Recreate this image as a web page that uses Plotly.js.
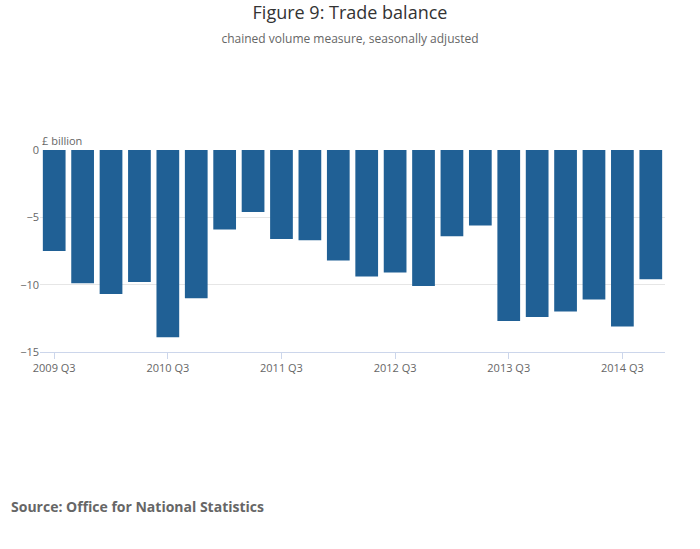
<!DOCTYPE html>
<html>
<head>
<meta charset="utf-8">
<script src="https://cdn.plot.ly/plotly-3.0.1.min.js"></script>
<style>body{margin:0}</style>
</head>
<body>
<div id="graph" style="width:700px;height:549px"></div>
<script>
const quarters = [
  "2009 Q3", "2009 Q4", "2010 Q1", "2010 Q2", "2010 Q3", "2010 Q4",
  "2011 Q1", "2011 Q2", "2011 Q3", "2011 Q4", "2012 Q1", "2012 Q2",
  "2012 Q3", "2012 Q4", "2013 Q1", "2013 Q2", "2013 Q3", "2013 Q4",
  "2014 Q1", "2014 Q2", "2014 Q3", "2014 Q4"
];
const balance = [
  -7.5, -9.9, -10.7, -9.8, -13.9, -11.0,
  -5.9, -4.6, -6.6, -6.7, -8.2, -9.4,
  -9.1, -10.1, -6.4, -5.6, -12.7, -12.4,
  -12.0, -11.1, -13.1, -9.6
];
const tickLabels = ["2009 Q3", "2010 Q3", "2011 Q3", "2012 Q3", "2013 Q3", "2014 Q3"];

const font = "Open Sans, sans-serif";

Plotly.newPlot("graph", [
  {
    type: "bar",
    x: quarters,
    y: balance,
    marker: { color: "#206095" },
    width: 0.8,
  },
], {
  width: 700,
  height: 549,
  margin: { l: 40, r: 35, t: 150, b: 197 },
  paper_bgcolor: "#fff",
  plot_bgcolor: "#fff",
  font: { family: font, color: "#555", size: 11 },
  showlegend: false,
  title: {
    text: "Figure 9: Trade balance<br><span style='font-size:12px;color:#666'>chained volume measure, seasonally adjusted</span>",
    font: { size: 18, color: "#333", family: font },
    x: 0.5,
    y: 0.965,
    yanchor: "top",
  },
  xaxis: {
    type: "category",
    tickvals: tickLabels,
    ticktext: tickLabels,
    ticks: "outside",
    ticklen: 6,
    tickcolor: "#ccd6eb",
    showline: true,
    linecolor: "#ccd6eb",
    showgrid: false,
    tickfont: { size: 11, color: "#666" },
  },
  yaxis: {
    range: [-15, 0],
    tickvals: [0, -5, -10, -15],
    showgrid: true,
    gridcolor: "#e6e6e6",
    zeroline: false,
    tickfont: { size: 11, color: "#666" },
  },
  annotations: [
    { text: "£ billion", xref: "paper", yref: "paper", x: 0, y: 1, xanchor: "left", yanchor: "bottom", showarrow: false, font: { size: 11, color: "#666" } },
    { text: "<b>Source: Office for National Statistics</b>", xref: "paper", yref: "paper", x: -0.05, xanchor: "left", y: -0.82, yanchor: "bottom", showarrow: false, font: { size: 14, color: "#666" } },
  ],
}, { displayModeBar: false });
</script>
</body>
</html>
